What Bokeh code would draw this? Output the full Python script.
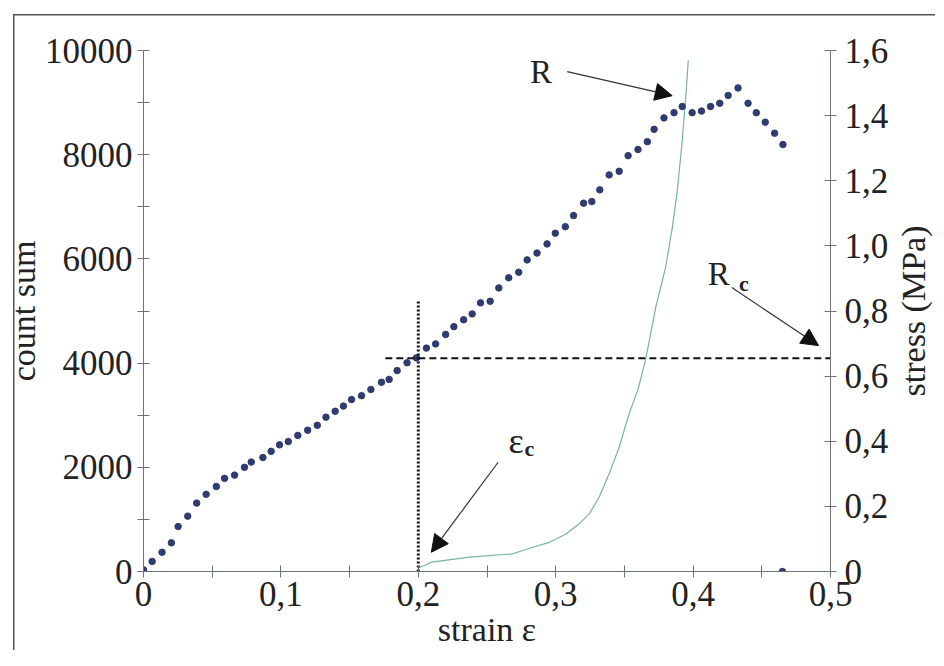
from bokeh.plotting import figure
from bokeh.layouts import row
from bokeh.models import Range1d, LinearAxis, FixedTicker, Arrow, NormalHead
from bokeh.core.properties import value
from bokeh.embed import file_html
from bokeh.resources import INLINE

# ---- data -------------------------------------------------------------
strain_s = [0, 0.0063, 0.0135, 0.0203, 0.0252, 0.0322, 0.0387, 0.0456, 0.0530, 0.0590,
            0.0663, 0.0735, 0.0784, 0.0869, 0.0929, 0.0990, 0.1054, 0.1123, 0.1195, 0.1265,
            0.1328, 0.1395, 0.1455, 0.1514, 0.1587, 0.1655, 0.1732, 0.1788, 0.1846, 0.1918,
            0.1986, 0.2059, 0.2126, 0.2199, 0.2259, 0.2330, 0.2392, 0.2453, 0.2523, 0.2586,
            0.2658, 0.2731, 0.2792, 0.2864, 0.2937, 0.2997, 0.3070, 0.3130, 0.3203, 0.3263,
            0.3321, 0.3389, 0.3462, 0.3527, 0.3599, 0.3667, 0.3716, 0.3788, 0.3861, 0.3921,
            0.3993, 0.4061, 0.4127, 0.4194, 0.4255, 0.4327, 0.4400, 0.4460, 0.4525, 0.4593,
            0.4654, 0.4650]
stress_mpa = [0.005, 0.031, 0.059, 0.088, 0.138, 0.170, 0.210, 0.237, 0.261, 0.286,
              0.296, 0.320, 0.336, 0.350, 0.369, 0.389, 0.399, 0.418, 0.434, 0.449,
              0.474, 0.492, 0.508, 0.528, 0.540, 0.559, 0.581, 0.590, 0.617, 0.641,
              0.656, 0.686, 0.699, 0.728, 0.752, 0.773, 0.791, 0.825, 0.830, 0.871,
              0.902, 0.919, 0.957, 0.978, 1.006, 1.039, 1.059, 1.093, 1.131, 1.136,
              1.172, 1.218, 1.229, 1.277, 1.296, 1.320, 1.358, 1.393, 1.409, 1.428,
              1.409, 1.414, 1.428, 1.438, 1.462, 1.485, 1.438, 1.409, 1.380, 1.346,
              1.311, 0.0]

strain_c = [0.150, 0.1998, 0.2005, 0.2046, 0.2095, 0.2180, 0.2373, 0.2688, 0.2833, 0.2954,
            0.3075, 0.3171, 0.3244, 0.3316, 0.3389, 0.3462, 0.3534, 0.3600, 0.3657, 0.3728,
            0.3800, 0.3849, 0.3885, 0.3921, 0.3950, 0.3965]
count_sum = [0, 0, 80, 115, 180, 210, 275, 340, 465, 560,
             720, 915, 1105, 1425, 1875, 2385, 3025, 3500, 4100, 5070,
             5840, 6605, 7310, 8270, 9230, 9805]

eps_c = 0.2          # critical strain
eps_c_top = 5200     # top of the vertical marker (count units)
R_c = 0.655          # critical stress (MPa)
R_c_from = 0.176     # start strain of the horizontal marker

x_ticks = [0, 0.1, 0.2, 0.3, 0.4, 0.5]
x_tick_labels = ["0", "0,1", "0,2", "0,3", "0,4", "0,5"]
x_minor = [0.05, 0.15, 0.25, 0.35, 0.45]
y_ticks = [0, 2000, 4000, 6000, 8000, 10000]
y_tick_labels = ["0", "2000", "4000", "6000", "8000", "10000"]
y_minor = [1000, 3000, 5000, 7000, 9000]
s_ticks = [0, 0.2, 0.4, 0.6, 0.8, 1.0, 1.2, 1.4, 1.6]
s_tick_labels = ["0", "0,2", "0,4", "0,6", "0,8", "1,0", "1,2", "1,4", "1,6"]

# annotation anchors (strain, count)
R_text = (0.2893, 9580)
R_arrow = (0.3084, 9593, 0.3848, 9133)
Rc_text = (0.4187, 5718)
Rc_sub = (0.4369, 5526)
Rc_arrow = (0.4282, 5449, 0.4913, 4336)
ec_text = (0.2712, 2513)
ec_sub = (0.2808, 2360)
ec_arrow = (0.2581, 2097, 0.2095, 370)

# ---- figure -----------------------------------------------------------
FONT = "Liberation Serif"
AX = "#6b7575"
FRAME_CSS = ("linear-gradient(#555,#555) 13px 14px / 1.5px 100% no-repeat, "
             "linear-gradient(#555,#555) 13px 14px / 100% 1.5px no-repeat, #ffffff")
TOP_CSS = "linear-gradient(#555,#555) 0 14px / 100% 1.5px no-repeat, #ffffff"

p = figure(width=891, height=650, output_backend="svg", toolbar_location=None,
           x_range=Range1d(0, 0.5), y_range=Range1d(0, 10000),
           min_border_left=143, min_border_right=59, min_border_top=50,
           min_border_bottom=79, styles={"background": FRAME_CSS})
p.border_fill_color = None
p.background_fill_color = None
p.extra_y_ranges = {"stress": Range1d(0, 1.6)}
p.outline_line_color = None
p.xgrid.visible = False
p.ygrid.visible = False

raxis = LinearAxis(y_range_name="stress")
p.add_layout(raxis, "right")


def style_axis(ax):
    ax.axis_line_color = AX
    ax.major_tick_line_color = AX
    ax.minor_tick_line_color = AX
    ax.major_tick_in = 6
    ax.major_tick_out = 6
    ax.minor_tick_in = 6
    ax.minor_tick_out = 6
    ax.major_label_text_font = FONT
    ax.major_label_text_font_size = "35px"
    ax.major_label_text_color = "#222222"
    ax.axis_label_text_font = FONT
    ax.axis_label_text_font_size = "34px"
    ax.axis_label_text_font_style = "normal"
    ax.axis_label_text_color = "#222222"


xa = p.xaxis[0]
ya = p.yaxis[0]
for ax in (xa, ya, raxis):
    style_axis(ax)

xa.ticker = FixedTicker(ticks=x_ticks, minor_ticks=x_minor)
xa.major_label_overrides = {t: l for t, l in zip(x_ticks, x_tick_labels)}
xa.axis_label = "strain ε"
xa.major_label_standoff = 4
xa.axis_label_standoff = 2

ya.ticker = FixedTicker(ticks=y_ticks, minor_ticks=y_minor)
ya.major_label_overrides = {t: l for t, l in zip(y_ticks, y_tick_labels)}
ya.axis_label = "count sum"
ya.major_label_standoff = 5
ya.axis_label_standoff = 0

raxis.ticker = FixedTicker(ticks=s_ticks, minor_ticks=[])
raxis.major_label_overrides = {t: l for t, l in zip(s_ticks, s_tick_labels)}
raxis.major_label_standoff = 8

# count sum curve
p.line(strain_c, count_sum, line_color="#7ab39c", line_width=1.2)

# stress dots
p.scatter(strain_s, stress_mpa, y_range_name="stress", size=6.5,
          fill_color="#303c70", line_color="#303c70")

# critical markers
p.line([eps_c, eps_c], [0, eps_c_top], line_color="#111111", line_width=3,
       line_dash="2 2")
p.line([R_c_from, 0.5], [R_c, R_c], y_range_name="stress", line_color="#111111",
       line_width=2, line_dash="7 4")

# annotations
txt = dict(text_font=value(FONT), text_color="#222222", text_align="center",
           text_baseline="middle")
p.text([R_text[0]], [R_text[1]], text=["R"], text_font_size="33px", **txt)
p.text([Rc_text[0]], [Rc_text[1]], text=["R"], text_font_size="33px", **txt)
p.text([Rc_sub[0]], [Rc_sub[1]], text=["c"], text_font_size="22px",
       text_font_style="bold", **txt)
p.text([ec_text[0]], [ec_text[1]], text=["ε"], text_font_size="36px", **txt)
p.text([ec_sub[0]], [ec_sub[1]], text=["c"], text_font_size="22px",
       text_font_style="bold", **txt)

for (x0, y0, x1, y1) in (R_arrow, Rc_arrow, ec_arrow):
    p.add_layout(Arrow(x_start=x0, y_start=y0, x_end=x1, y_end=y1,
                       line_color="#333333", line_width=1.2,
                       end=NormalHead(size=17, fill_color="#111111",
                                      line_color="#111111")))

# narrow companion figure carrying the right-hand axis title (reads bottom to top)
q = figure(width=44, height=650, output_backend="svg", toolbar_location=None,
           x_range=Range1d(0, 1), y_range=Range1d(0, 1),
           min_border_left=40, min_border_right=4, min_border_top=50,
           min_border_bottom=79, styles={"background": TOP_CSS})
q.border_fill_color = None
q.background_fill_color = None
q.outline_line_color = None
q.xgrid.visible = False
q.ygrid.visible = False
q.xaxis.visible = False
qa = q.yaxis[0]
qa.ticker = FixedTicker(ticks=[], minor_ticks=[])
qa.axis_line_color = None
qa.major_tick_line_color = None
qa.minor_tick_line_color = None
qa.major_label_text_font_size = "0px"
qa.major_tick_in = 0
qa.major_tick_out = 0
qa.major_label_standoff = 0
qa.axis_label = "stress (MPa)"
qa.axis_label_standoff = 0
qa.axis_label_text_font = FONT
qa.axis_label_text_font_size = "34px"
qa.axis_label_text_font_style = "normal"
qa.axis_label_text_color = "#222222"

layout = row(p, q, spacing=0)
open("out.html", "w").write(file_html(layout, INLINE))
